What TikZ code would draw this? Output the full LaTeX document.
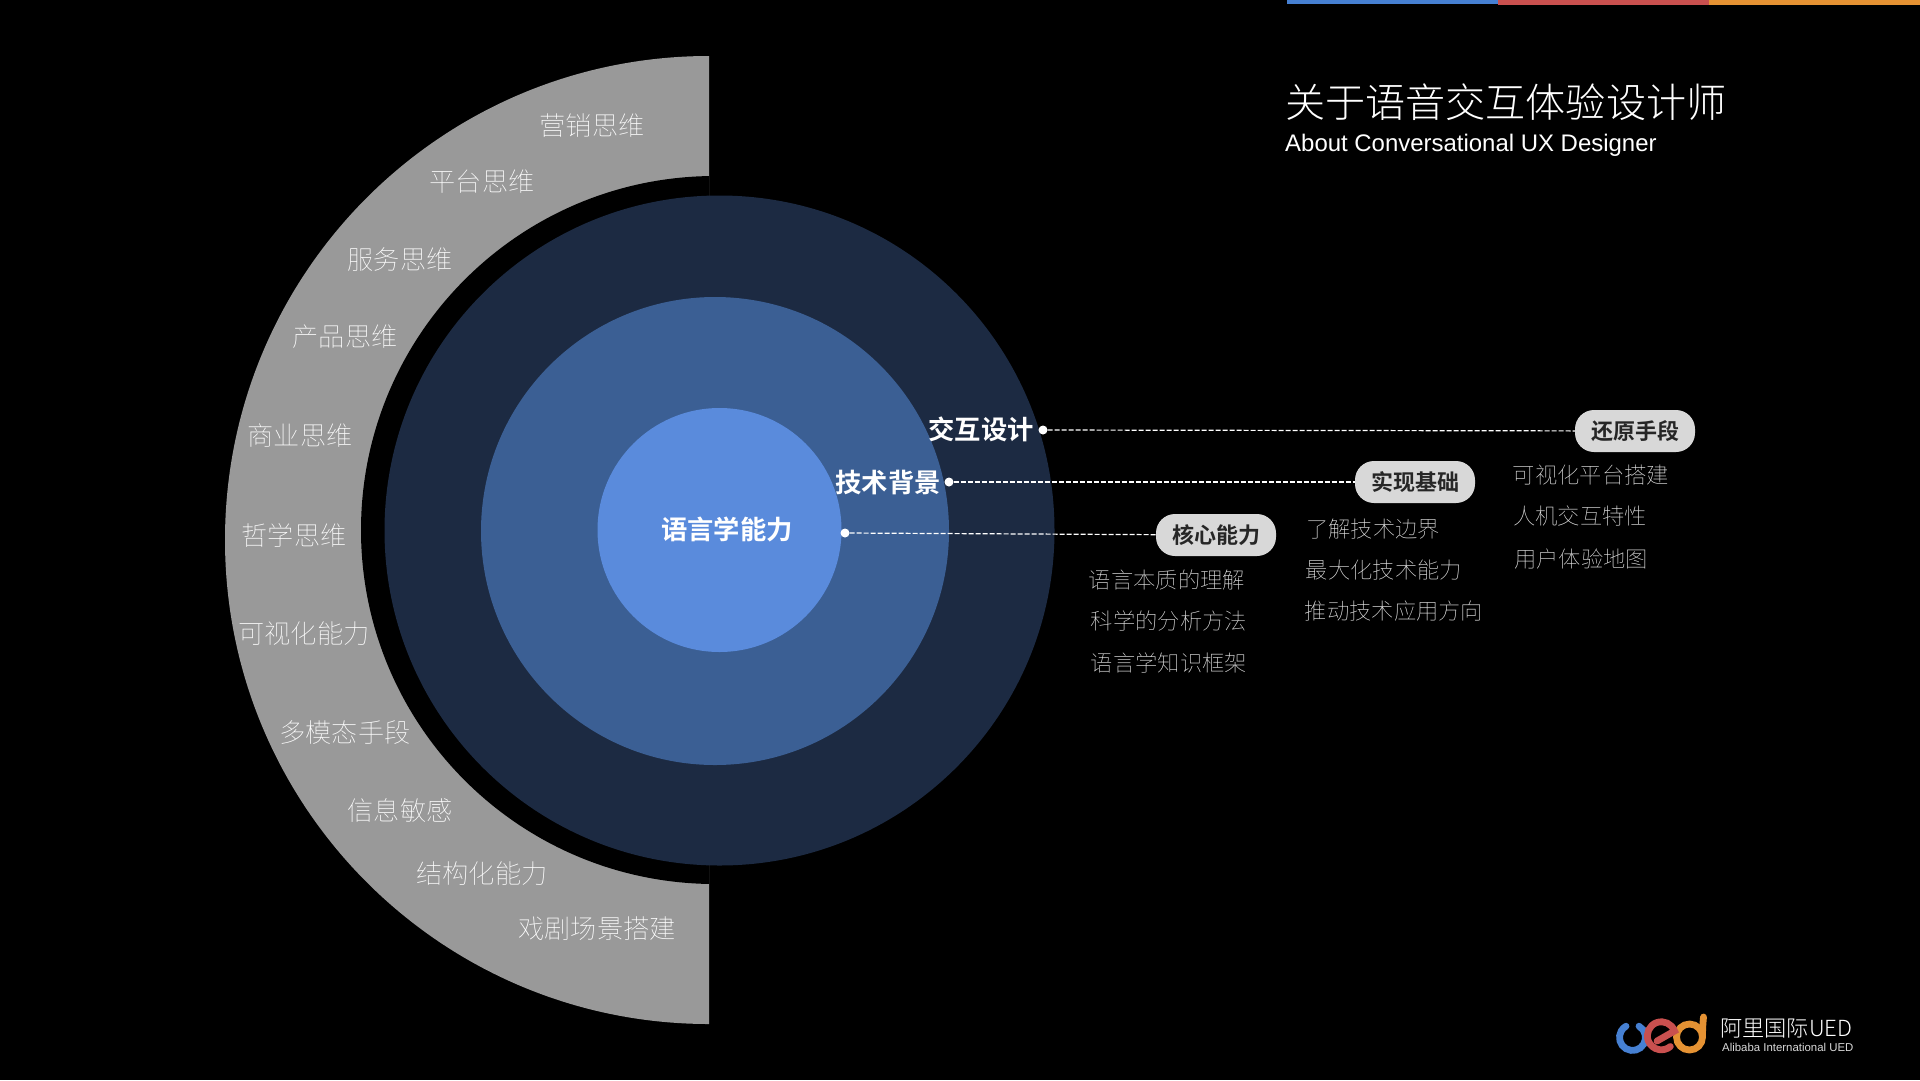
\documentclass[tikz,border=0pt]{standalone}
\usepackage{fontspec}
\setmainfont{Noto Sans CJK SC Light}
\newfontfamily\lat{Liberation Sans}
\newfontfamily\cjklight{Noto Sans CJK SC Light}
\newfontfamily\cjkthin{Noto Sans CJK SC Thin}
\newfontfamily\cjkmed{Noto Sans CJK SC Medium}
\newfontfamily\cjkbold{Noto Sans CJK SC Bold}
\definecolor{grayring}{HTML}{999999}
\definecolor{darkc}{HTML}{1C2A42}
\definecolor{midc}{HTML}{3B5F94}
\definecolor{innerc}{HTML}{5A8BDC}
\definecolor{blueb}{HTML}{4680D2}
\definecolor{redb}{HTML}{C9504F}
\definecolor{orangeb}{HTML}{E59233}
\definecolor{pillc}{HTML}{D8D8D8}
\definecolor{itemc}{HTML}{E4E4E4}
\tikzset{
 ringtext/.style={text=white,font=\cjkthin\fontsize{26.2}{30}\selectfont,inner sep=0pt,anchor=center},
 itemtext/.style={text=itemc,font=\cjkthin\fontsize{22.3}{28}\selectfont,inner sep=0pt,anchor=center},
 circlabel/.style={text=white,font=\cjkbold\fontsize{26.3}{30}\selectfont,inner sep=0pt,anchor=center},
 pill/.style={fill=pillc,rounded corners=19pt,minimum width=120pt,minimum height=42pt,inner sep=0pt,text=black!85,font=\cjkbold\fontsize{22}{26}\selectfont},
 dot/.style={circle,fill=white,minimum size=9pt,inner sep=0pt},
 leader/.style={draw=white,line width=1.2pt,dash pattern=on 5pt off 2pt},
 logostroke/.style={line width=6.8pt,line cap=round},
}
\begin{document}
\begin{tikzpicture}[x=1pt,y=-1pt]
\useasboundingbox[fill=black] (0,0) rectangle (1920,1080);
% top bar
\fill[blueb] (1287,0) rectangle (1498,4);
\fill[redb] (1498,0) rectangle (1709,5);
\fill[orangeb] (1709,0) rectangle (1920,5);
% gray ring
\begin{scope}
\clip (0,0) rectangle (709,1080);
\fill[grayring] (709,540) circle[radius=484];
\fill[black] (715,530) circle[radius=354];
\end{scope}
% circles
\fill[darkc] (719.5,530.5) circle[radius=335];
\fill[midc] (715,531) circle[radius=234];
\fill[innerc] (719.5,530) circle[radius=122];
% ring labels
\node[ringtext] (r1) at (592,126) {营销思维};
\node[ringtext] (r2) at (482,182) {平台思维};
\node[ringtext] (r3) at (400,260) {服务思维};
\node[ringtext] (r4) at (345,337) {产品思维};
\node[ringtext] (r5) at (300,436) {商业思维};
\node[ringtext] (r6) at (294,535) {哲学思维};
\node[ringtext] (r7) at (304,634) {可视化能力};
\node[ringtext] (r8) at (345,733) {多模态手段};
\node[ringtext] (r9) at (400,810) {信息敏感};
\node[ringtext] (r10) at (482,874) {结构化能力};
\node[ringtext] (r11) at (597,929) {戏剧场景搭建};
% title
\node[anchor=west,inner sep=0pt,text=white,font=\cjklight\fontsize{40.1}{44}\selectfont] (title) at (1285,102) {关于语音交互体验设计师};
\node[anchor=west,inner sep=0pt,text=white,font=\lat\fontsize{23.95}{28}\selectfont] (sub) at (1285,145) {About Conversational UX Designer};
% centre labels
\node[circlabel] (c1) at (727,529) {语言学能力};
\node[circlabel] (l1) at (981,429) {交互设计};
\node[circlabel] (l2) at (888,482) {技术背景};
% dots
\node[dot] (d1) at (1043,430) {};
\node[dot] (d2) at (949,482) {};
\node[dot] (d3) at (845,533) {};
% pills
\node[pill] (p1) at (1635,431) {还原手段};
\node[pill] (p2) at (1415,482) {实现基础};
\node[pill] (p3) at (1216,535) {核心能力};
\draw[leader] (d1) -- (p1);
\draw[leader] (d2) -- (p2);
\draw[leader] (d3) -- (p3);
% items
\node[itemtext] (a1) at (1591,475) {可视化平台搭建};
\node[itemtext] (a2) at (1580,516) {人机交互特性};
\node[itemtext] (a3) at (1581,559) {用户体验地图};
\node[itemtext] (b1) at (1373,529) {了解技术边界};
\node[itemtext] (b2) at (1384,570) {最大化技术能力};
\node[itemtext] (b3) at (1394,611) {推动技术应用方向};
\node[itemtext] (c1a) at (1167,580) {语言本质的理解};
\node[itemtext] (c2a) at (1169,621) {科学的分析方法};
\node[itemtext] (c3a) at (1169,663) {语言学知识框架};
% logo
\draw[blueb,logostroke] (1639,1026.2) arc[start angle=60,end angle=-240,radius=13pt];
\draw[orangeb,logostroke] (1702.5,1037) arc[start angle=0,end angle=360,radius=13pt];
\draw[orangeb,logostroke] (1702.5,1037) .. controls (1702.5,1028) and (1703,1022) .. (1703.5,1017);
\draw[redb,logostroke] (1657,1041) -- (1674.5,1031) arc[start angle=20,end angle=310,radius=14pt];
\node[anchor=west,inner sep=0pt,text=white,font=\cjklight\fontsize{22.2}{24}\selectfont] (lg1) at (1720,1029) {阿里国际UED};
\node[anchor=west,inner sep=0pt,text=white!85!black,font=\lat\fontsize{11.4}{12}\selectfont] (lg2) at (1722,1047) {Alibaba International UED};
\end{tikzpicture}
\end{document}
